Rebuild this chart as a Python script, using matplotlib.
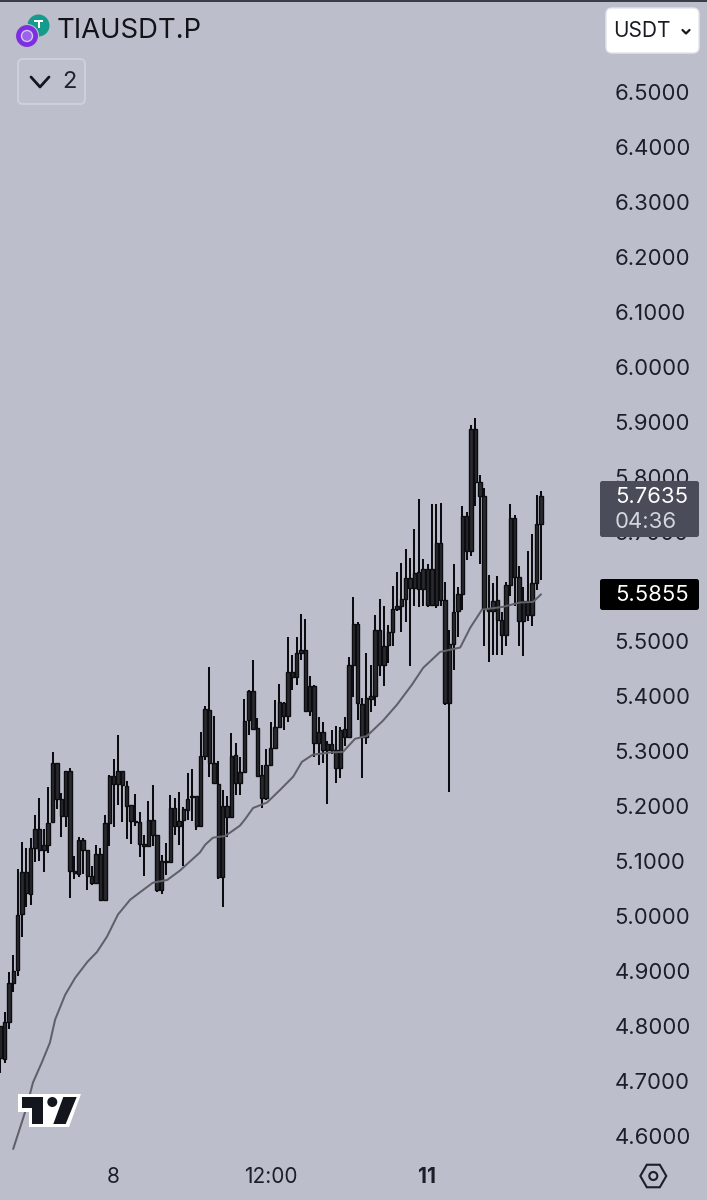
"""Recreate the TIAUSDT.P candlestick screenshot."""

import matplotlib

matplotlib.use("Agg")

import matplotlib.pyplot as plt
from matplotlib.patches import Circle, FancyBboxPatch, Polygon, Rectangle, RegularPolygon

BG = "#bcbfcb"
INK = "#14161e"

highs = [4.800, 4.825, 4.899, 4.930, 5.086, 5.135, 5.124, 5.142, 5.185, 5.216,
         5.158, 5.236, 5.298, 5.279, 5.225, 5.264, 5.270, 5.109, 5.145, 5.142,
         5.121, 5.091, 5.129, 5.124, 5.185, 5.257, 5.286, 5.330, 5.264, 5.247,
         5.203, 5.223, 5.190, 5.148, 5.210, 5.239, 5.148, 5.112, 5.134, 5.221,
         5.215, 5.227, 5.199, 5.260, 5.268, 5.219, 5.335, 5.383, 5.453, 5.365,
         5.282, 5.230, 5.219, 5.333, 5.315, 5.289, 5.395, 5.412, 5.467, 5.361,
         5.276, 5.304, 5.353, 5.394, 5.423, 5.389, 5.508, 5.476, 5.509, 5.550,
         5.541, 5.438, 5.421, 5.362, 5.354, 5.318, 5.339, 5.347, 5.345, 5.362,
         5.472, 5.581, 5.535, 5.397, 5.479, 5.458, 5.549, 5.577, 5.565, 5.530,
         5.601, 5.626, 5.643, 5.668, 5.652, 5.705, 5.760, 5.651, 5.641, 5.751,
         5.751, 5.752, 5.609, 5.520, 5.641, 5.600, 5.746, 5.735, 5.894, 5.907,
         5.803, 5.779, 5.621, 5.606, 5.620, 5.554, 5.609, 5.751, 5.731, 5.638,
         5.599, 5.664, 5.696, 5.767, 5.774]
body_tops = [4.800, 4.807, 4.878, 4.901, 5.002, 5.081, 5.081, 5.124, 5.158, 5.158,
             5.130, 5.169, 5.279, 5.279, 5.213, 5.264, 5.265, 5.083, 5.138, 5.138,
             5.121, 5.074, 5.113, 5.113, 5.169, 5.256, 5.256, 5.264, 5.264, 5.237,
             5.203, 5.173, 5.171, 5.132, 5.176, 5.176, 5.148, 5.101, 5.101, 5.197,
             5.197, 5.174, 5.195, 5.213, 5.219, 5.219, 5.292, 5.377, 5.376, 5.279,
             5.241, 5.201, 5.201, 5.292, 5.294, 5.263, 5.356, 5.409, 5.409, 5.342,
             5.257, 5.276, 5.307, 5.345, 5.389, 5.388, 5.444, 5.444, 5.479, 5.485,
             5.485, 5.419, 5.419, 5.336, 5.336, 5.314, 5.314, 5.302, 5.339, 5.340,
             5.458, 5.532, 5.532, 5.387, 5.397, 5.401, 5.521, 5.521, 5.492, 5.517,
             5.559, 5.564, 5.577, 5.615, 5.615, 5.624, 5.627, 5.632, 5.632, 5.632,
             5.679, 5.679, 5.575, 5.496, 5.554, 5.587, 5.729, 5.729, 5.887, 5.887,
             5.791, 5.764, 5.559, 5.573, 5.575, 5.539, 5.603, 5.725, 5.725, 5.617,
             5.573, 5.573, 5.607, 5.714, 5.765]
body_bottoms = [4.742, 4.740, 4.807, 4.878, 4.903, 5.004, 5.042, 5.041, 5.124, 5.121,
                5.120, 5.130, 5.171, 5.213, 5.182, 5.182, 5.083, 5.078, 5.077, 5.121,
                5.074, 5.060, 5.060, 5.030, 5.030, 5.169, 5.241, 5.241, 5.239, 5.201,
                5.173, 5.171, 5.132, 5.128, 5.128, 5.148, 5.047, 5.047, 5.098, 5.098,
                5.165, 5.165, 5.176, 5.194, 5.217, 5.165, 5.165, 5.292, 5.279, 5.242,
                5.072, 5.072, 5.180, 5.180, 5.242, 5.242, 5.263, 5.357, 5.340, 5.256,
                5.215, 5.215, 5.276, 5.307, 5.345, 5.364, 5.364, 5.435, 5.435, 5.479,
                5.374, 5.374, 5.315, 5.315, 5.303, 5.303, 5.303, 5.269, 5.269, 5.327,
                5.327, 5.458, 5.388, 5.327, 5.327, 5.396, 5.401, 5.458, 5.458, 5.494,
                5.517, 5.559, 5.565, 5.577, 5.597, 5.597, 5.595, 5.595, 5.567, 5.567,
                5.567, 5.575, 5.388, 5.388, 5.496, 5.555, 5.587, 5.664, 5.664, 5.791,
                5.764, 5.559, 5.555, 5.555, 5.539, 5.511, 5.511, 5.603, 5.618, 5.538,
                5.538, 5.549, 5.549, 5.607, 5.714]
lows = [4.714, 4.733, 4.795, 4.863, 4.892, 4.963, 5.016, 5.021, 5.098, 5.100,
        5.081, 5.115, 5.169, 5.195, 5.145, 5.162, 5.033, 5.067, 5.072, 5.077,
        5.047, 5.056, 5.059, 5.030, 5.030, 5.128, 5.163, 5.203, 5.171, 5.141,
        5.132, 5.165, 5.108, 5.074, 5.128, 5.128, 5.045, 5.041, 5.075, 5.097,
        5.148, 5.130, 5.092, 5.176, 5.173, 5.157, 5.163, 5.285, 5.254, 5.242,
        5.067, 5.016, 5.144, 5.180, 5.221, 5.221, 5.263, 5.330, 5.340, 5.256,
        5.197, 5.212, 5.276, 5.307, 5.342, 5.339, 5.354, 5.411, 5.421, 5.467,
        5.374, 5.364, 5.289, 5.276, 5.279, 5.205, 5.296, 5.243, 5.252, 5.309,
        5.327, 5.399, 5.357, 5.251, 5.314, 5.371, 5.383, 5.438, 5.419, 5.461,
        5.491, 5.555, 5.518, 5.535, 5.455, 5.565, 5.563, 5.565, 5.563, 5.565,
        5.561, 5.564, 5.385, 5.227, 5.448, 5.509, 5.558, 5.649, 5.655, 5.746,
        5.641, 5.491, 5.462, 5.476, 5.476, 5.476, 5.492, 5.582, 5.564, 5.492,
        5.473, 5.538, 5.528, 5.594, 5.612]

ma_index = [3, 5, 6, 7.5, 9.6, 11.4, 12.6, 14.9, 17.2, 20, 22.2, 24.5, 27, 29.8, 32.8,
            35, 38.3, 41.2, 45.8, 47, 48.8, 51.6, 55, 56.2, 58, 61.2, 64.2, 67.2, 69.2,
            71.7, 75.6, 78.6, 81.4, 84.1, 87.8, 91, 94.4, 97, 100.9, 103.2, 105.5,
            107.8, 110.5, 115.3, 119.2, 122.2, 124]
ma_values = [4.577, 4.626, 4.651, 4.697, 4.735, 4.770, 4.812, 4.857, 4.888, 4.917, 4.935,
             4.963, 5.003, 5.030, 5.048, 5.061, 5.066, 5.083, 5.116, 5.130, 5.143, 5.146,
             5.165, 5.177, 5.197, 5.207, 5.230, 5.254, 5.281, 5.294, 5.298, 5.299, 5.323,
             5.328, 5.356, 5.385, 5.421, 5.452, 5.481, 5.485, 5.489, 5.525, 5.558, 5.563,
             5.571, 5.572, 5.5855]

price_ticks = [4.6, 4.7, 4.8, 4.9, 5.0, 5.1, 5.2, 5.3, 5.4, 5.5, 5.6, 5.7, 5.8, 5.9,
               6.0, 6.1, 6.2, 6.3, 6.4, 6.5]
time_ticks = [25.9, 62.1, 97.9]
time_labels = ["8", "12:00", "11"]

symbol = "TIAUSDT.P"
last_price = "5.7635"
countdown = "04:36"
ma_price = "5.5855"

PRICE_SIZE = 15.9

plt.rcParams["font.family"] = ["Inter", "DejaVu Sans"]

fig = plt.figure(figsize=(7.07, 12.0), dpi=100, facecolor=BG)
ax = fig.add_axes([0, 0, 1, 1], facecolor=BG)
idx = list(range(len(highs)))
ax.vlines(idx, lows, highs, color="#0b0c10", lw=1.45, zorder=2)
ax.bar(idx, [t - b for t, b in zip(body_tops, body_bottoms)], bottom=body_bottoms, width=0.78,
       facecolor="#29292e", edgecolor="#0b0c10", lw=1.0, zorder=3)
ax.plot(ma_index, ma_values, color="#5f6068", lw=1.45, zorder=4, solid_joinstyle="round")

ax.set_xlim(-0.046, 162.1)
ax.set_ylim(4.4836, 6.6674)
for spine in ax.spines.values():
    spine.set_visible(False)
ax.yaxis.tick_right()
ax.set_yticks(price_ticks, [f"{p:.4f}" for p in price_ticks])
ax.set_xticks(time_ticks, time_labels)
ax.tick_params(axis="y", length=0, pad=-66.5, labelsize=PRICE_SIZE, labelcolor="#1c1f28")
ax.tick_params(axis="x", length=0, pad=-24, labelsize=15, labelcolor="#1c1f28")
ax.get_xticklabels()[2].set_fontweight("bold")

# screen furniture, drawn in pixel coordinates
ui = fig.add_axes([0, 0, 1, 1], facecolor="none")
ui.set_xlim(0, 707)
ui.set_ylim(1200, 0)
ui.axis("off")

ui.add_patch(Rectangle((0, 0), 707, 2, color="#3a3d48", lw=0))

# coin icons
ui.add_patch(Circle((38.5, 25.5), 11, color="#169a8c", lw=0))
ui.add_patch(Rectangle((34, 20), 9, 2.2, color="white", lw=0))
ui.add_patch(Rectangle((37.5, 20), 2.2, 8, color="white", lw=0))
ui.add_patch(Circle((27, 36), 11.5, color="#7b2fe0", ec=BG, lw=0.8))
ui.add_patch(Circle((27, 36), 5.5, fc="#9a63e8", ec="#d8c4f5", lw=1.0))
ui.text(57, 31, symbol, fontsize=19.8, color="#111319", va="center", ha="left")

# collapsed indicators button
ui.add_patch(FancyBboxPatch((18, 59), 67, 45, boxstyle="round,pad=0,rounding_size=5",
                            fc="#bec1cd", ec="#cdd0db", lw=1.5))
ui.plot([31, 40, 49], [77, 87, 77], color="#14161e", lw=2, solid_capstyle="round")
ui.text(69, 82, "2", fontsize=17, color="#22242c", ha="center", va="center")

# currency button
ui.add_patch(FancyBboxPatch((606, 8), 93, 45, boxstyle="round,pad=0,rounding_size=6",
                            fc="white", ec="#e3e5ec", lw=1))
ui.text(613, 31, "USDT", fontsize=15, color="#1a1c24", ha="left", va="center")
ui.plot([682.5, 686, 689.5], [30, 33.5, 30], color="#14161e", lw=1.6, solid_capstyle="round")

# price tags
ui.add_patch(FancyBboxPatch((600, 481), 99, 56, boxstyle="round,pad=0,rounding_size=2.5",
                            fc="#4a4d59", ec="none"))
ui.text(615, 497, last_price, fontsize=PRICE_SIZE, color="white", ha="left", va="center")
ui.text(615, 522, countdown, fontsize=PRICE_SIZE, color="#d4d6dd", ha="left", va="center")
ui.add_patch(FancyBboxPatch((600, 579), 99, 31, boxstyle="round,pad=0,rounding_size=2.5",
                            fc="#000000", ec="none"))
ui.text(615, 595, ma_price, fontsize=PRICE_SIZE, color="white", ha="left", va="center")

# TradingView mark
ui.add_patch(Polygon([(18, 1094), (81, 1094), (69, 1127), (29, 1127), (29, 1112), (18, 1112)],
                     fc="white", ec="none", zorder=5))
ui.add_patch(Polygon([(21.7, 1097), (43.3, 1097), (43.3, 1124), (32.3, 1124), (32.3, 1108), (21.7, 1108)],
                     fc=INK, ec="none", zorder=6))
ui.add_patch(Circle((52.3, 1102), 5, fc=INK, ec="none", zorder=6))
ui.add_patch(Polygon([(63.3, 1097), (76.7, 1097), (65.7, 1124), (53.3, 1124)],
                     fc=INK, ec="none", zorder=6))

# settings hexagon
ui.add_patch(RegularPolygon((653.3, 1176), 6, radius=13, orientation=0.5236,
                            fc="none", ec="#1c1f28", lw=1.5))
ui.add_patch(Circle((653.3, 1176), 4, fc="none", ec="#1c1f28", lw=1.5))

fig.savefig("out.png", dpi=100, facecolor=BG)
plt.close(fig)
